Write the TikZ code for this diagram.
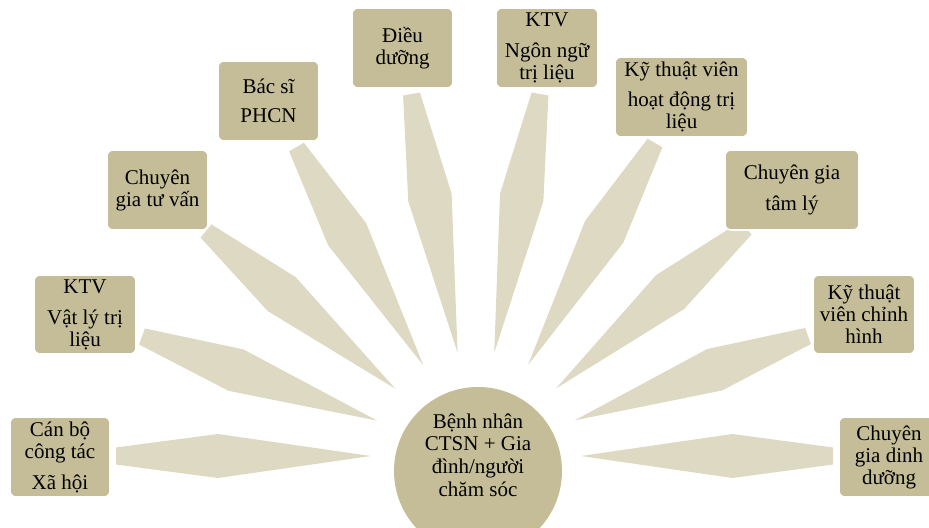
\documentclass[tikz,border=0pt]{standalone}
\usepackage{fontspec}
\setmainfont{Liberation Serif}
\usetikzlibrary{calc,backgrounds}
\definecolor{boxtan}{HTML}{C4BD97}
\definecolor{spokefill}{HTML}{DDD9C3}
\tikzset{
  box/.style={rectangle, rounded corners=4.5pt, fill=boxtan, draw=white,
    line width=1.2pt, inner sep=0pt, align=center,
    font=\fontsize{15.75}{16.5}\selectfont, text=black},
  hub/.style={circle, fill=boxtan, inner sep=0pt, minimum size=126pt},
  hubtext/.style={align=center, font=\fontsize{15.75}{17}\selectfont, text=black},
}
\newcommand\spoke[2]{%
  \path coordinate (w) at ($(#1)!0.4!(#2)$);
  \fill[spokefill] ($(#1)!6.4pt!90:(#2)$) -- ($(w)!16.5pt!90:(#2)$) -- (#2)
    -- ($(w)!16.5pt!-90:(#2)$) -- ($(#1)!6.4pt!-90:(#2)$) -- cycle;}
\begin{document}
\begin{tikzpicture}[x=0.75pt,y=-0.75pt]
\useasboundingbox (0,0) rectangle (929,528);
\clip (0,0) rectangle (929,528);
% hub
\coordinate (C) at (476,456);
\node[hub] (hub) at (478,471) {};
\node[hubtext] (hubt) at (478,455) {Bệnh nhân\\CTSN + Gia\\đình/người\\chăm sóc};
% boxes
\node[box, minimum width=75pt, minimum height=60pt] (n1) at (60,457) {Cán bộ\\công tác\\[6.75pt]Xã hội};
\node[box, minimum width=76.5pt, minimum height=59.25pt] (n2) at (85,314.5) {KTV\\[6.75pt]Vật lý trị\\liệu};
\node[box, minimum width=75.75pt, minimum height=60pt] (n3) at (157.5,190) {Chuyên\\gia tư vấn};
\node[box, minimum width=75.75pt, minimum height=60pt] (n4) at (268.5,101) {Bác sĩ\\[5pt]PHCN};
\node[box, minimum width=75.75pt, minimum height=60pt] (n5) at (402.5,48) {Điều\\dưỡng};
\node[box, minimum width=76.5pt, minimum height=60pt] (n6) at (547,48) {KTV\\[6.75pt]Ngôn ngữ\\trị liệu};
\node[box, minimum width=99.75pt, minimum height=60pt] (n7) at (681.5,97) {Kỹ thuật viên\\[6pt]hoạt động trị\\liệu};
\node[box, minimum width=100.5pt, minimum height=60pt] (n8) at (792,190) {Chuyên gia\\[6.75pt]tâm lý};
\node[box, minimum width=76.5pt, minimum height=59.25pt] (n9) at (864,314.5) {Kỹ thuật\\viên chỉnh\\hình};
\node[box, minimum width=75pt, minimum height=60pt] (n10) at (889,457) {Chuyên\\gia dinh\\dưỡng};
% spoke bases
\coordinate (b1) at (116,456);
\coordinate (b2) at (142,336.5);
\coordinate (b3) at (206,231);
\coordinate (b4) at (296.5,147);
\coordinate (b5) at (411.5,94);
\coordinate (b6) at (540,94);
\coordinate (b7) at (655,143);
\coordinate (b8) at (746,228);
\coordinate (b9) at (808,336);
\coordinate (b10) at (833,456);
\foreach \i in {1,...,10}{\coordinate (t\i) at ($(C)!78.75pt!(b\i)$);}
\begin{pgfonlayer}{background}
\foreach \i in {1,...,10}{\spoke{b\i}{t\i}}
\end{pgfonlayer}
\end{tikzpicture}
\end{document}
